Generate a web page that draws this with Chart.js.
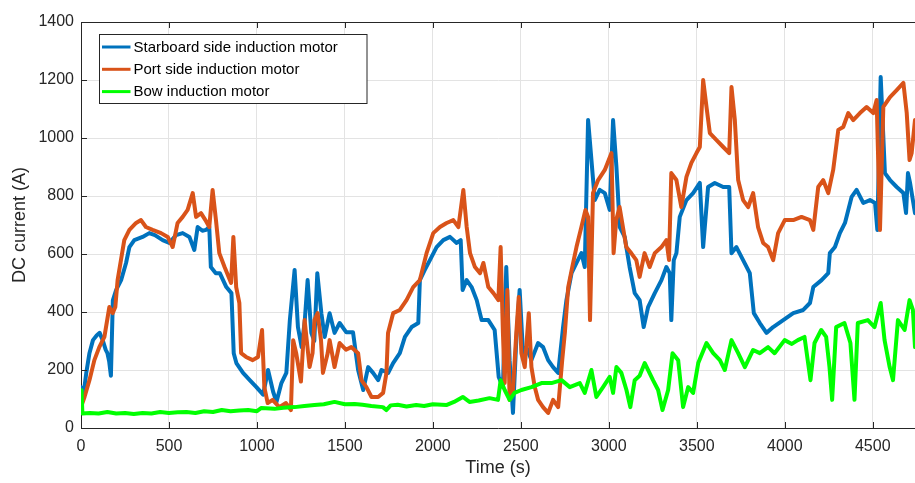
<!DOCTYPE html>
<html>
<head>
<meta charset="utf-8">
<title>DC current of the induction motors</title>
<script src="https://cdn.jsdelivr.net/npm/chart.js@4.4.1/dist/chart.umd.min.js"></script>
<style>
    body { margin: 0; background: #fff; }
</style>
</head>
<body>
<canvas id="current-graph" width="915" height="483"></canvas>
<script>
"use strict";

const chartElement = document.getElementById("current-graph");

// Data (time in s, current in A)
const timeTicks = [0, 500, 1000, 1500, 2000, 2500, 3000, 3500, 4000, 4500];
const currentTicks = [0, 200, 400, 600, 800, 1000, 1200, 1400];

const starboardTime = [0, 15, 30, 48, 68, 90, 106, 125, 140, 150, 160, 170, 181, 200, 228, 256, 275, 303, 350, 388, 420, 464, 502, 540, 578, 616, 644, 663, 690, 710, 729, 738, 766, 789, 826, 855, 868, 883, 921, 959, 997, 1035, 1063, 1092, 1111, 1139, 1167, 1187, 1214, 1233, 1254, 1272, 1288, 1309, 1326, 1343, 1366, 1385, 1413, 1441, 1470, 1508, 1546, 1575, 1604, 1632, 1660, 1689, 1708, 1746, 1774, 1812, 1841, 1879, 1917, 1926, 1954, 1983, 2021, 2059, 2097, 2135, 2158, 2169, 2192, 2220, 2249, 2277, 2315, 2351, 2374, 2398, 2417, 2436, 2455, 2474, 2493, 2512, 2531, 2560, 2598, 2626, 2655, 2683, 2712, 2740, 2759, 2788, 2816, 2844, 2863, 2882, 2901, 2920, 2948, 2977, 3005, 3024, 3043, 3062, 3090, 3118, 3147, 3175, 3198, 3223, 3261, 3299, 3327, 3346, 3355, 3369, 3384, 3403, 3441, 3479, 3517, 3536, 3564, 3602, 3650, 3684, 3697, 3725, 3763, 3801, 3824, 3858, 3896, 3934, 3991, 4048, 4105, 4143, 4162, 4209, 4247, 4256, 4285, 4313, 4342, 4380, 4408, 4446, 4484, 4513, 4526, 4545, 4569, 4598, 4636, 4674, 4689, 4700, 4712, 4740];
const starboardCurrent = [140, 120, 190, 258, 303, 320, 328, 300, 270, 258, 230, 180, 440, 476, 510, 569, 624, 648, 659, 672, 665, 648, 638, 665, 672, 659, 614, 693, 680, 683, 693, 555, 534, 534, 486, 465, 258, 224, 190, 165, 141, 115, 200, 125, 90, 155, 190, 372, 545, 348, 279, 372, 510, 328, 300, 534, 396, 314, 396, 328, 362, 330, 330, 200, 131, 210, 190, 165, 200, 190, 224, 258, 314, 348, 362, 510, 545, 579, 624, 648, 659, 638, 648, 476, 510, 486, 441, 372, 372, 338, 176, 141, 555, 234, 52, 303, 476, 258, 279, 234, 293, 279, 234, 210, 190, 348, 441, 534, 569, 603, 555, 1062, 924, 786, 821, 810, 752, 1062, 900, 693, 659, 555, 465, 441, 348, 417, 465, 510, 555, 534, 372, 579, 603, 728, 786, 810, 845, 624, 831, 845, 831, 831, 603, 624, 579, 534, 396, 362, 328, 348, 372, 396, 407, 431, 486, 510, 534, 603, 624, 672, 707, 797, 821, 776, 786, 776, 683, 1210, 879, 855, 831, 810, 741, 879, 845, 741];

const portTime = [0, 20, 48, 76, 104, 133, 161, 180, 195, 208, 227, 246, 275, 313, 341, 369, 407, 455, 493, 521, 549, 578, 606, 635, 654, 682, 707, 729, 748, 767, 786, 816, 853, 866, 882, 900, 910, 938, 976, 1006, 1029, 1042, 1061, 1089, 1127, 1165, 1193, 1206, 1223, 1250, 1271, 1299, 1316, 1327, 1345, 1364, 1375, 1402, 1413, 1441, 1470, 1506, 1536, 1575, 1594, 1622, 1651, 1689, 1717, 1736, 1745, 1774, 1812, 1850, 1888, 1926, 1964, 2002, 2040, 2078, 2116, 2145, 2173, 2192, 2211, 2239, 2268, 2287, 2315, 2344, 2372, 2385, 2398, 2408, 2423, 2436, 2455, 2474, 2488, 2503, 2522, 2545, 2560, 2579, 2598, 2626, 2655, 2683, 2712, 2735, 2750, 2769, 2792, 2816, 2844, 2867, 2882, 2893, 2910, 2939, 2977, 3015, 3027, 3042, 3061, 3080, 3099, 3127, 3156, 3175, 3203, 3232, 3261, 3299, 3327, 3342, 3355, 3384, 3412, 3441, 3469, 3498, 3517, 3536, 3555, 3574, 3612, 3650, 3684, 3697, 3716, 3735, 3763, 3792, 3820, 3848, 3877, 3905, 3934, 3962, 4000, 4048, 4095, 4143, 4162, 4190, 4218, 4247, 4275, 4304, 4332, 4361, 4389, 4427, 4465, 4503, 4522, 4541, 4560, 4598, 4636, 4674, 4693, 4709, 4721, 4740];
const portCurrent = [72, 107, 165, 234, 279, 314, 417, 396, 417, 510, 579, 648, 683, 707, 717, 693, 683, 672, 659, 624, 707, 728, 752, 810, 728, 741, 717, 693, 821, 717, 603, 555, 500, 659, 486, 431, 258, 245, 234, 245, 338, 141, 86, 97, 72, 86, 62, 303, 258, 160, 372, 210, 258, 372, 396, 303, 190, 258, 303, 210, 293, 270, 279, 258, 165, 141, 107, 107, 121, 190, 328, 396, 407, 441, 486, 510, 603, 672, 693, 707, 717, 693, 821, 693, 603, 555, 534, 569, 486, 465, 441, 624, 328, 155, 476, 97, 131, 328, 452, 258, 210, 396, 210, 141, 97, 72, 52, 97, 72, 234, 328, 486, 555, 624, 693, 752, 728, 372, 810, 855, 890, 948, 603, 717, 762, 693, 624, 603, 579, 521, 603, 555, 603, 624, 648, 579, 879, 855, 762, 866, 914, 948, 969, 1200, 1107, 1017, 993, 969, 948, 1176, 1062, 855, 786, 762, 810, 693, 638, 624, 579, 672, 717, 717, 728, 717, 683, 831, 855, 810, 890, 1028, 1038, 1086, 1062, 1086, 1107, 1086, 1131, 683, 1107, 1141, 1165, 1190, 1086, 924, 948, 1062];

const bowTime = [0, 3, 8, 50, 100, 150, 200, 250, 300, 350, 400, 450, 500, 550, 600, 650, 700, 750, 800, 850, 900, 950, 1000, 1025, 1100, 1150, 1214, 1270, 1327, 1380, 1441, 1500, 1555, 1600, 1650, 1716, 1735, 1760, 1800, 1850, 1905, 1950, 2000, 2076, 2120, 2170, 2208, 2260, 2322, 2370, 2385, 2408, 2436, 2464, 2503, 2560, 2617, 2674, 2731, 2778, 2835, 2863, 2901, 2929, 2967, 3005, 3024, 3043, 3071, 3100, 3122, 3147, 3175, 3204, 3251, 3280, 3305, 3337, 3362, 3394, 3422, 3451, 3479, 3508, 3555, 3593, 3631, 3659, 3697, 3735, 3773, 3820, 3858, 3905, 3942, 3999, 4040, 4074, 4112, 4146, 4169, 4207, 4235, 4254, 4269, 4292, 4339, 4373, 4396, 4415, 4472, 4510, 4545, 4567, 4596, 4615, 4643, 4681, 4709, 4728, 4740];
const bowCurrent = [55, 130, 50, 52, 50, 55, 50, 52, 48, 52, 50, 55, 52, 54, 55, 52, 58, 55, 62, 58, 60, 62, 58, 69, 66, 70, 72, 76, 79, 82, 90, 82, 83, 80, 76, 72, 62, 78, 80, 74, 79, 76, 82, 79, 90, 107, 90, 95, 103, 97, 165, 131, 97, 121, 131, 141, 155, 155, 165, 141, 155, 121, 200, 107, 141, 176, 121, 210, 190, 131, 72, 165, 180, 224, 165, 131, 62, 131, 258, 234, 72, 141, 121, 224, 293, 258, 234, 200, 303, 258, 210, 269, 258, 279, 258, 303, 290, 303, 314, 165, 293, 338, 314, 210, 97, 348, 362, 293, 97, 362, 372, 348, 431, 303, 210, 165, 372, 338, 441, 407, 279];

const toPoints = (times, values) => times.map((t, i) => ({ x: t, y: values[i] }));

const data = {
    datasets: [
        {
            label: "Starboard side induction motor",
            data: toPoints(starboardTime, starboardCurrent),
            borderColor: '#0072BD',
            order: 2
        },
        {
            label: "Port side induction motor",
            data: toPoints(portTime, portCurrent),
            borderColor: '#D95319',
            order: 1
        },
        {
            label: "Bow induction motor",
            data: toPoints(bowTime, bowCurrent),
            borderColor: '#00FF00',
            order: 0
        }
    ]
};

// Box legend in the upper left corner of the plot
const boxLegend = {
    id: 'boxLegend',
    afterDraw: function(chart, args, options) {
        const ctx = chart.ctx;
        ctx.save();
        ctx.fillStyle = '#ffffff';
        ctx.fillRect(options.x, options.y, options.width, options.height);
        ctx.strokeStyle = '#262626';
        ctx.lineWidth = 1;
        ctx.strokeRect(options.x, options.y, options.width, options.height);

        ctx.font = '15px "Liberation Sans", Arial, sans-serif';
        ctx.textBaseline = 'middle';
        chart.data.datasets.forEach((ds, i) => {
            const y = options.y + 12.5 + i * 22.3;
            ctx.strokeStyle = ds.borderColor;
            ctx.lineWidth = 3;
            ctx.beginPath();
            ctx.moveTo(options.x + 2.5, y);
            ctx.lineTo(options.x + 31, y);
            ctx.stroke();
            ctx.fillStyle = '#000000';
            ctx.fillText(ds.label, options.x + 34, y + 0.5);
        });
        ctx.restore();
    }
};

// Top border and inward tick marks, like a boxed axes
const axesBox = {
    id: 'axesBox',
    afterDatasetsDraw: function(chart) {
        const ctx = chart.ctx;
        const area = chart.chartArea;
        const xScale = chart.scales.x;
        const yScale = chart.scales.y;
        ctx.save();
        ctx.strokeStyle = '#262626';
        ctx.lineWidth = 1;
        ctx.beginPath();
        ctx.moveTo(area.left, area.top + 0.5);
        ctx.lineTo(area.right, area.top + 0.5);
        xScale.ticks.forEach(t => {
            const px = Math.round(xScale.getPixelForValue(t.value)) + 0.5;
            ctx.moveTo(px, area.bottom);
            ctx.lineTo(px, area.bottom - 6);
            ctx.moveTo(px, area.top);
            ctx.lineTo(px, area.top + 6);
        });
        yScale.ticks.forEach(t => {
            const py = Math.round(yScale.getPixelForValue(t.value)) + 0.5;
            ctx.moveTo(area.left, py);
            ctx.lineTo(area.left + 6, py);
        });
        ctx.stroke();
        ctx.restore();
    }
};

const tickFont = { family: '"Liberation Sans", Arial, sans-serif', size: 16 };
const titleFont = { family: '"Liberation Sans", Arial, sans-serif', size: 18 };

// Configuration
const config = {
    type: 'line',
    data: data,
    options: {
        responsive: false,
        animation: false,
        events: [],
        layout: { padding: { top: 22, right: 0, left: 0, bottom: 0 } },
        elements: {
            point: { radius: 0 },
            line: { borderWidth: 4, tension: 0, borderJoinStyle: 'round', borderCapStyle: 'round' }
        },
        scales: {
            x: {
                type: 'linear',
                min: 0,
                max: 4740,
                afterBuildTicks: scale => { scale.ticks = timeTicks.map(v => ({ value: v })); },
                afterFit: scale => { scale.height = 55; },
                ticks: { color: '#262626', font: tickFont, padding: 9, maxRotation: 0, callback: v => String(v) },
                grid: { color: '#e3e3e3', drawTicks: false },
                border: { color: '#262626' },
                title: {
                    display: true,
                    text: 'Time (s)',
                    color: '#262626',
                    font: titleFont,
                    padding: { top: 0, bottom: 4 }
                }
            },
            y: {
                min: 0,
                max: 1400,
                afterBuildTicks: scale => { scale.ticks = currentTicks.map(v => ({ value: v })); },
                afterFit: scale => { scale.width = 81; },
                ticks: { color: '#262626', font: tickFont, padding: 7, callback: v => String(v) },
                grid: { color: '#e3e3e3', drawTicks: false },
                border: { color: '#262626' },
                title: {
                    display: true,
                    text: 'DC current (A)',
                    color: '#262626',
                    font: titleFont,
                    padding: { top: 9, bottom: 0 }
                }
            }
        },
        plugins: {
            legend: { display: false },
            tooltip: { enabled: false },
            boxLegend: { x: 99.5, y: 34.5, width: 267.5, height: 69 }
        }
    },
    plugins: [axesBox, boxLegend]
};

// Create the chart
const currentChart = new Chart(
    chartElement,
    config
);
</script>
</body>
</html>
